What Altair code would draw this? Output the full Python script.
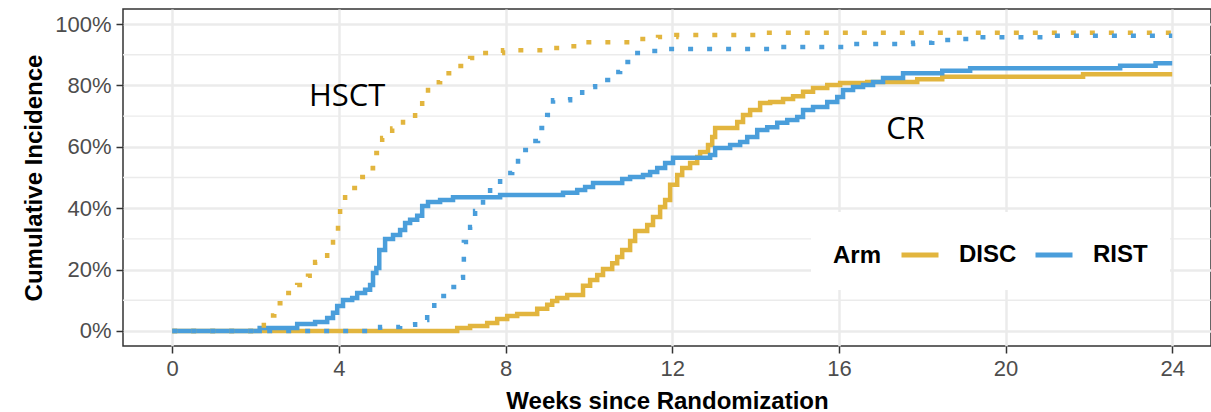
import altair as alt
import pandas as pd

# ---- data (weeks since randomization, cumulative incidence in %) ----
disc_cr_t = [0, 6.84, 7.15, 7.56, 7.8, 8.04, 8.28, 8.76, 9.0, 9.12, 9.24, 9.48, 9.86, 10.03, 10.2, 10.34,
             10.56, 10.68, 10.8, 10.99, 11.11, 11.4, 11.54, 11.71, 11.83, 11.95, 12.12, 12.24, 12.43, 12.6,
             12.67, 12.86, 12.96, 13.03, 13.56, 13.7, 13.87, 14.11, 14.35, 14.66, 14.9, 15.14, 15.38, 15.72,
             16.03, 16.68, 17.88, 18.48, 21.86, 24.0]
disc_cr_v = [0, 1.0, 1.6, 2.6, 3.9, 4.9, 5.5, 7.2, 8.5, 9.8, 10.7, 11.7, 14.7, 16.6, 18.2, 20.2,
             22.1, 24.1, 26.4, 29.3, 32.6, 34.5, 37.1, 40.4, 42.7, 47.6, 50.8, 53.1, 54.7, 56.7,
             58.3, 60.6, 63.2, 66.1, 68.1, 70.4, 72.0, 74.3, 74.6, 75.6, 76.5, 77.9, 79.2, 80.1,
             80.8, 81.1, 82.0, 82.8, 83.6, 83.6]

rist_cr_t = [0, 2.1, 3.0, 3.43, 3.72, 3.86, 3.96, 4.1, 4.32, 4.44, 4.63, 4.75, 4.82, 4.9, 4.97, 5.11,
             5.3, 5.47, 5.59, 5.71, 5.88, 6.0, 6.14, 6.43, 6.74, 7.87, 9.38, 9.72, 9.91, 10.1, 10.8,
             10.99, 11.3, 11.47, 11.64, 11.83, 12.02, 12.91, 13.03, 13.39, 13.63, 13.8, 14.04, 14.28,
             14.52, 14.76, 15.0, 15.14, 15.38, 15.72, 15.96, 16.1, 16.34, 16.58, 16.82, 17.06, 17.54,
             18.48, 19.15, 22.75, 23.6, 24.0]
rist_cr_v = [0, 1.0, 2.3, 2.9, 4.2, 5.9, 8.1, 10.1, 10.7, 12.4, 13.4, 15.0, 18.9, 20.5, 26.4, 30.0,
             31.3, 32.9, 35.2, 36.2, 37.5, 40.7, 42.0, 42.7, 43.6, 44.3, 45.0, 45.9, 46.9, 48.2, 49.5,
             50.2, 50.8, 51.8, 53.1, 54.7, 56.4, 57.3, 59.6, 60.6, 61.6, 63.2, 65.5, 66.4,
             67.8, 68.7, 69.7, 72.0, 73.0, 74.6, 76.2, 78.5, 79.5, 80.1, 81.1, 82.4, 84.0,
             84.8, 85.6, 86.4, 87.2, 87.2]

disc_hsct_t = [0, 2.0, 2.2, 2.45, 2.7, 3.0, 3.26, 3.43, 3.72, 3.86, 3.98, 4.03, 4.15, 4.44, 4.7, 4.82,
               5.04, 5.28, 5.54, 5.83, 6.0, 6.14, 6.43, 6.79, 7.15, 7.46, 7.94, 8.9, 9.36, 9.74, 11.16,
               11.66, 12.1, 14.0, 24.0]
disc_hsct_v = [0, 1.0, 5.0, 9.0, 12.4, 15.0, 18.0, 22.5, 25.7, 30.6, 35.5, 41.7, 46.6, 50.2, 53.0, 58.0,
               62.9, 66.0, 69.4, 72.0, 76.9, 81.0, 84.0, 86.3, 88.9, 90.6, 91.5, 92.2, 92.8, 94.1, 95.1,
               95.8, 96.4, 97.2, 97.2]

rist_hsct_t = [0, 4.99, 5.47, 5.83, 6.12, 6.29, 6.6, 6.84, 6.98, 7.0, 7.15, 7.27, 7.46, 7.63, 7.87, 8.16,
               8.3, 8.59, 8.78, 9.0, 9.14, 9.55, 9.84, 10.15, 10.46, 10.75, 11.04, 11.47, 11.9, 14.4,
               16.34, 17.78, 18.24, 18.72, 19.2, 21.14, 24.0]
rist_hsct_v = [0, 1.3, 2.0, 3.6, 6.2, 11.4, 14.3, 17.3, 22.1, 29.0, 33.9, 39.1, 43.6, 47.9, 51.5, 54.1,
               59.0, 61.9, 66.1, 70.4, 75.2, 76.5, 79.5, 81.8, 84.4, 87.6, 90.6, 91.2, 91.9, 92.5,
               93.5, 93.9, 94.8, 95.1, 95.7, 96.2, 96.2]

arms = ["DISC", "RIST"]
arm_colors = ["#E2B53E", "#4A9EDB"]
outcomes = ["CR", "HSCT"]

x_ticks = [0, 4, 8, 12, 16, 20, 24]
y_ticks = [0, 0.2, 0.4, 0.6, 0.8, 1.0]
y_minor = [0.1, 0.3, 0.5, 0.7, 0.9]

ann_text = ["HSCT", "CR"]
ann_x = [4.2, 17.6]
ann_y = [0.762, 0.655]

# ---- build table ----
rows = []
for arm, outc, ts, vs in [("DISC", "CR", disc_cr_t, disc_cr_v),
                          ("RIST", "CR", rist_cr_t, rist_cr_v),
                          ("DISC", "HSCT", disc_hsct_t, disc_hsct_v),
                          ("RIST", "HSCT", rist_hsct_t, rist_hsct_v)]:
    for t, v in zip(ts, vs):
        rows.append({"week": t, "ci": v / 100.0, "arm": arm, "outcome": outc, "series": arm + outc})
df = pd.DataFrame(rows)
ann = pd.DataFrame({"label": ann_text, "week": ann_x, "ci": ann_y})
minor = pd.DataFrame({"ci": y_minor})

XDOM = [-1.18, 24.93]
YDOM = [-0.049, 1.049]

x_enc = alt.X("week:Q", scale=alt.Scale(domain=XDOM, nice=False, zero=False),
              axis=alt.Axis(title="Weeks since Randomization", values=x_ticks, format="d"))
y_enc = alt.Y("ci:Q", scale=alt.Scale(domain=YDOM, nice=False, zero=False),
              axis=alt.Axis(title="Cumulative Incidence", values=y_ticks, format=".0%"))

minor_rules = alt.Chart(minor).mark_rule(color="#EBEBEB", strokeWidth=1.3).encode(
    y=alt.Y("ci:Q", scale=alt.Scale(domain=YDOM, nice=False, zero=False))
)

lines = alt.Chart(df).mark_line(interpolate="step-after", strokeWidth=4.5, strokeCap="butt",
                                strokeJoin="miter").encode(
    x=x_enc,
    y=y_enc,
    color=alt.Color("arm:N", scale=alt.Scale(domain=arms, range=arm_colors),
                    legend=alt.Legend(title="Arm", orient="none", legendX=688, legendY=203,
                                      direction="horizontal", titleOrient="left",
                                      titleBaseline="line-top", titleLineHeight=10,
                                      titleAnchor="middle",
                                      fillColor="white", padding=22,
                                      symbolType="stroke", symbolSize=1369, symbolStrokeWidth=5,
                                      labelFont="Liberation Sans", labelFontSize=24,
                                      labelFontWeight="bold", labelColor="black",
                                      titleFont="Liberation Sans", titleFontSize=24,
                                      titleFontWeight="bold", titleColor="black",
                                      labelOffset=18, columnPadding=8, titlePadding=17)),
    strokeDash=alt.StrokeDash("outcome:N", scale=alt.Scale(domain=outcomes, range=[[1, 0], [5, 14]]),
                              legend=None),
    detail="series:N",
)

labels = alt.Chart(ann).mark_text(font="Open Sans", fontSize=31, color="black",
                                  align="center", baseline="middle").encode(
    x=alt.X("week:Q", scale=alt.Scale(domain=XDOM, nice=False, zero=False)),
    y=alt.Y("ci:Q", scale=alt.Scale(domain=YDOM, nice=False, zero=False)),
    text="label:N",
)

chart = alt.layer(minor_rules, lines, labels).properties(
    width=1088, height=337,
    padding={"left": 123, "top": 9, "right": 0, "bottom": 66},
    autosize="none",
).configure_view(
    stroke="#333333", strokeWidth=1.5
).configure_axis(
    domain=False,
    grid=True, gridColor="#EBEBEB", gridWidth=2.5,
    tickColor="#333333", tickWidth=1.5, tickSize=7,
    labelFont="Liberation Sans", labelFontSize=22, labelColor="#4D4D4D",
    titleFont="Liberation Sans", titleFontSize=24, titleFontWeight="bold", titleColor="black",
    labelPadding=5,
).configure_axisY(
    titlePadding=8,
).configure_axisX(
    titlePadding=10,
)

chart.save("out.html", embed_options={"renderer": "svg", "actions": False})
